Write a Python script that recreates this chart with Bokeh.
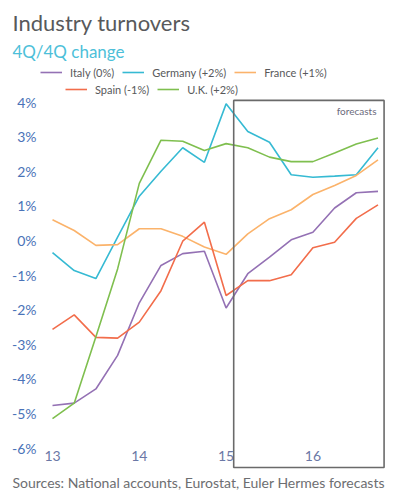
from bokeh.plotting import figure
from bokeh.models import (FixedTicker, PrintfTickFormatter, Label, Legend, LegendItem,
                          BoxAnnotation, Range1d, Title)
from bokeh.embed import file_html
from bokeh.resources import INLINE

# ---- data (4Q/4Q change, %) ----
quarters = list(range(16))  # 2013Q1 .. 2016Q4
year_ticks = [0, 4, 8, 12]
year_labels = ["13", "14", "15", "16"]
y_ticks = [-6, -5, -4, -3, -2, -1, 0, 1, 2, 3, 4]

italy = [-4.77, -4.70, -4.29, -3.32, -1.80, -0.72, -0.38, -0.31, -1.95, -0.96, -0.48, 0.02, 0.24, 0.94, 1.38, 1.42]
germany = [-0.35, -0.87, -1.10, 0.10, 1.28, 2.00, 2.68, 2.26, 3.95, 3.15, 2.84, 1.90, 1.83, 1.86, 1.90, 2.68]
france = [0.60, 0.29, -0.14, -0.12, 0.34, 0.34, 0.12, -0.19, -0.40, 0.19, 0.63, 0.89, 1.33, 1.59, 1.88, 2.33]
spain = [-2.57, -2.15, -2.80, -2.82, -2.36, -1.45, -0.02, 0.53, -1.59, -1.16, -1.16, -0.99, -0.21, -0.05, 0.64, 1.03]
uk = [-5.15, -4.70, -2.78, -0.82, 1.65, 2.90, 2.87, 2.60, 2.80, 2.68, 2.41, 2.28, 2.28, 2.53, 2.79, 2.96]

series_names = ["Italy (0%)", "Germany (+2%)", "France (+1%)", "Spain (-1%)", "U.K. (+2%)"]
series_values = [italy, germany, france, spain, uk]
series_colors = ["#9471b4", "#36bad3", "#fbb36b", "#f26d4b", "#7fbf4f"]

forecast_start = 8.35
forecast_end = 15.28

FONT = "Lato"

p = figure(width=400, height=492, output_backend="svg", toolbar_location=None,
           x_range=Range1d(-0.553, 15.576), y_range=Range1d(-6.647, 5.145),
           min_border_left=40, min_border_right=10, min_border_top=62, min_border_bottom=22,
           background_fill_color="white", border_fill_color="white")
p.outline_line_color = None
p.xgrid.visible = False
p.ygrid.visible = False

renderers = []
for vals, col in zip(series_values, series_colors):
    r = p.line(quarters, vals, line_color=col, line_width=1.6)
    renderers.append(r)

box = BoxAnnotation(left=forecast_start, right=forecast_end, top=4.05, bottom=-6.56,
                    fill_alpha=0, line_color="#6a6a6a", line_alpha=1.0, line_width=1.6)
p.add_layout(box)

# axes
ya = p.yaxis[0]
ya.ticker = FixedTicker(ticks=y_ticks)
ya.formatter = PrintfTickFormatter(format="%d%%")
ya.axis_line_color = None
ya.major_tick_line_color = None
ya.minor_tick_line_color = None
ya.major_tick_out = 0
ya.major_tick_in = 0
ya.major_label_text_color = "#4a73b8"
ya.major_label_text_font = FONT
ya.major_label_text_font_size = "14px"
ya.major_label_standoff = 4

xa = p.xaxis[0]
xa.ticker = FixedTicker(ticks=year_ticks)
xa.major_label_overrides = {t: l for t, l in zip(year_ticks, year_labels)}
xa.axis_line_color = None
xa.major_tick_line_color = None
xa.minor_tick_line_color = None
xa.major_tick_out = 0
xa.major_tick_in = 0
xa.major_label_text_color = "#6b78a6"
xa.major_label_text_font = FONT
xa.major_label_text_font_size = "14px"
xa.major_label_standoff = -20

# titles (added titles sit closer to the frame)
p.title.text = "Industry turnovers"
p.title.text_font = FONT
p.title.text_font_size = "22px"
p.title.text_font_style = "normal"
p.title.text_color = "#58595b"
p.title.align = "left"
p.title.offset = -28
p.title.standoff = 3
p.add_layout(Title(text="4Q/4Q change", text_font=FONT, text_font_size="17px",
                   text_font_style="normal", text_color="#4dbfd9", align="left",
                   offset=-28, standoff=2), "above")
p.add_layout(Title(text="Sources: National accounts, Eurostat, Euler Hermes forecasts",
                   text_font=FONT, text_font_size="14px", text_font_style="normal",
                   text_color="#6d6e71", align="left", offset=-28, standoff=3), "below")

# legends (two rows); location = (left, bottom) in px from frame's bottom-left
def make_legend(idxs, loc):
    lg = Legend(items=[LegendItem(label=series_names[i], renderers=[renderers[i]]) for i in idxs],
                location=loc, orientation="horizontal",
                glyph_width=22, glyph_height=20, label_height=20, label_standoff=8, spacing=8,
                padding=0, margin=0, border_line_color=None, background_fill_alpha=0,
                label_text_font=FONT, label_text_font_size="11px", label_text_color="#58595b")
    p.add_layout(lg, "center")
    return lg

make_legend([0, 1, 2], (0, 388))
make_legend([3, 4], (25, 371))

p.add_layout(Label(x=336, y=360, x_units="screen", y_units="screen", text="forecasts",
                   text_font=FONT, text_font_size="10px", text_color="#6b6b7b",
                   text_align="right", text_baseline="middle"))

open("out.html", "w").write(file_html(p, INLINE))
